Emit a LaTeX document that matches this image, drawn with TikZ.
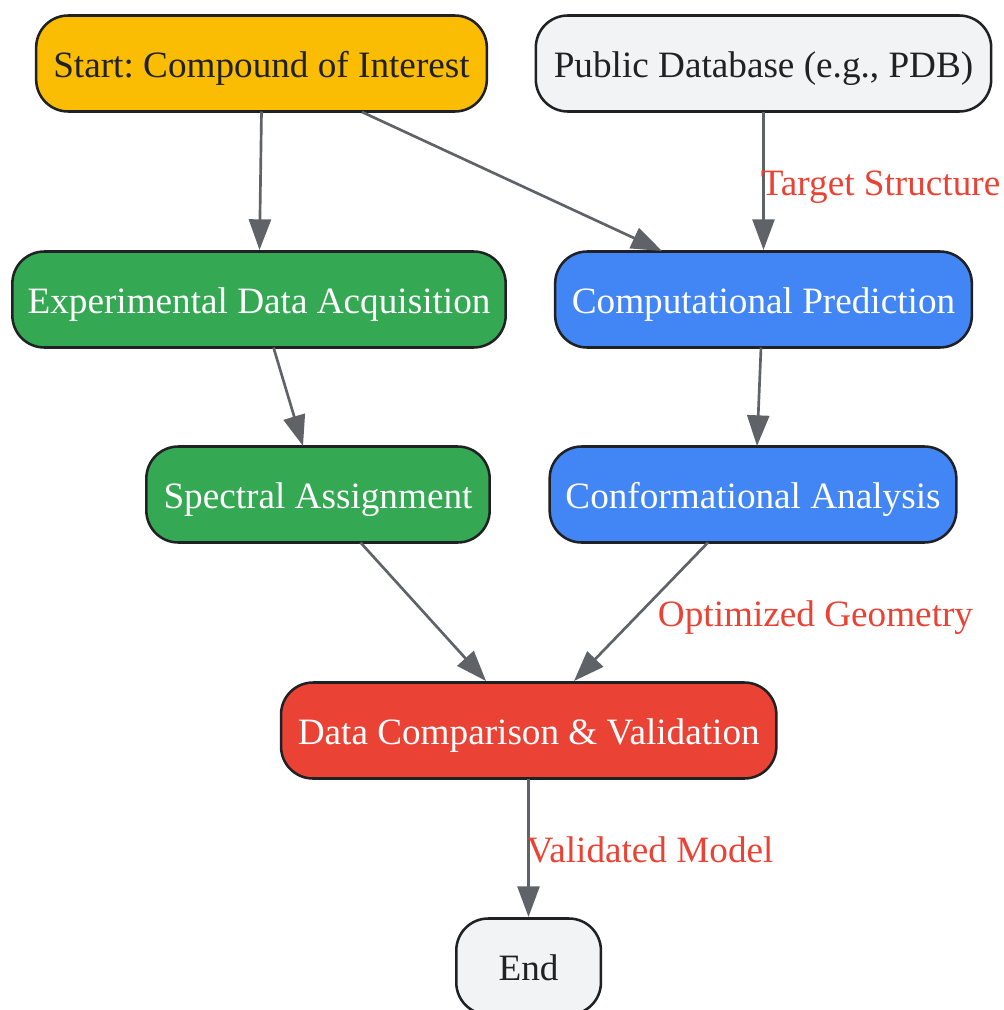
\documentclass[tikz,border=0pt]{standalone}
\usepackage{fontspec}
\setmainfont{Liberation Serif}
\usetikzlibrary{arrows.meta}
\definecolor{ink}{HTML}{202124}
\definecolor{edgec}{HTML}{5F6368}
\definecolor{yel}{HTML}{FBBC04}
\definecolor{gry}{HTML}{F1F3F4}
\definecolor{grn}{HTML}{34A853}
\definecolor{blu}{HTML}{4285F4}
\definecolor{rd}{HTML}{EA4335}
\tikzset{x=0.75pt,y=-0.75pt,
 box/.style={draw=ink,line width=1.9pt,rounded corners=24pt,minimum height=72pt,inner sep=0pt,text height=24.2pt,text depth=3.2pt,font=\fontsize{27.9pt}{30pt}\selectfont\frenchspacing,anchor=center},
 lite/.style={box,text=ink},
 dark/.style={box,text=white},
 conn/.style={draw=edgec,line width=2pt,-{Triangle[length=23pt,width=16.5pt]}},
 lab/.style={text=rd,font=\fontsize{27.9pt}{30pt}\selectfont\frenchspacing,inner sep=0pt,anchor=base}}
\begin{document}
\begin{tikzpicture}
\useasboundingbox (0,0) rectangle (1003,1010);
\node[lite,fill=yel,minimum width=338pt] (start) at (261.5,63.5) {Start: Compound of Interest};
\node[lite,fill=gry,minimum width=341.5pt] (pub) at (763.5,63.5) {Public Database (e.g., PDB)};
\node[dark,fill=grn,minimum width=370pt] (exp) at (259,299.5) {Experimental Data Acquisition};
\node[dark,fill=blu,minimum width=312.5pt] (comp) at (763.5,299.5) {Computational Prediction};
\node[dark,fill=grn,minimum width=257.5pt] (spec) at (318,494.5) {Spectral Assignment};
\node[dark,fill=blu,minimum width=305pt] (conf) at (753,494.5) {Conformational Analysis};
\node[dark,fill=rd,minimum width=371.5pt] (data) at (528.7,730.5) {Data Comparison \& Validation};
\node[lite,fill=gry,minimum width=108.5pt] (endn) at (528.6,966.5) {End};
\coordinate (a1) at (261.5,111.5); \coordinate (a2) at (259.5,250);
\coordinate (b1) at (362,112); \coordinate (b2) at (662,251);
\coordinate (c1) at (763.5,111.5); \coordinate (c2) at (763.5,250);
\coordinate (d1) at (273.5,347.5); \coordinate (d2) at (303,446);
\coordinate (e1) at (761,347.5); \coordinate (e2) at (757,446);
\coordinate (f1) at (360.5,542.5); \coordinate (f2) at (486,681);
\coordinate (g1) at (708,542.5); \coordinate (g2) at (574,681);
\coordinate (h1) at (528.5,778.5); \coordinate (h2) at (528.5,917);
\draw[conn] (a1) -- (a2);
\draw[conn] (b1) -- (b2);
\draw[conn] (c1) -- (c2);
\draw[conn] (d1) -- (d2);
\draw[conn] (e1) -- (e2);
\draw[conn] (f1) -- (f2);
\draw[conn] (g1) -- (g2);
\draw[conn] (h1) -- (h2);
\node[lab] (l1) at (880.5,195) {Target Structure};
\node[lab] (l2) at (815.5,626) {Optimized Geometry};
\node[lab] (l3) at (650,862) {Validated Model};
\end{tikzpicture}
\end{document}
